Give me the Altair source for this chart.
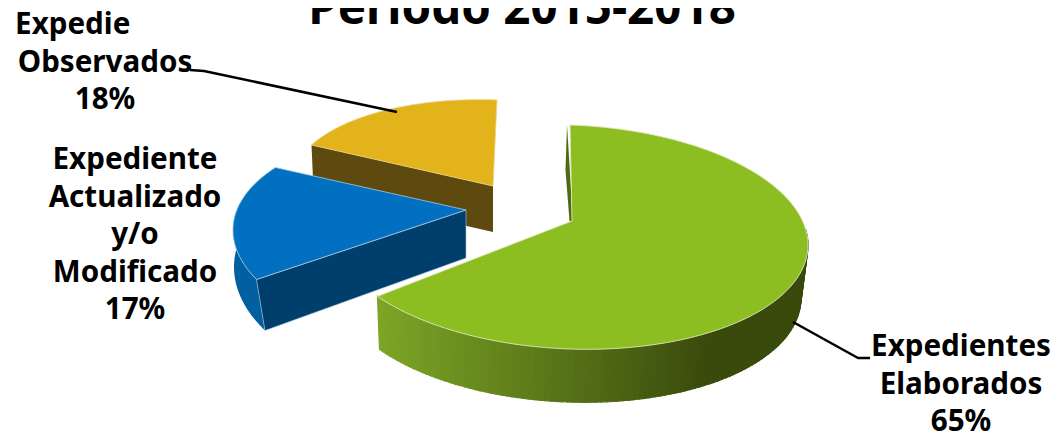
import math
import altair as alt

# --- values ---
TITLE = "Periodo 2015-2018"
names = ["Expedientes\nElaborados", "Expediente\nActualizado\ny/o\nModificado", "Expedientes\nObservados"]
shares = [65, 17, 18]

W, H = 1043, 423
OX, OY = 8, 8

GREEN, GREEN_LIGHT, GREEN_DARK = "#8CBE22", "#7DA526", "#394B0C"
BLUE, BLUE_OUT, BLUE_IN = "#0170C0", "#01609F", "#003E6C"
YELLOW, BROWN = "#E2B31B", "#5E4A0E"


def spans():
    t = 0.0
    out = []
    for v in shares:
        out.append((t, t + v * 3.6))
        t += v * 3.6
    return out


def pt(el, t):
    r = math.radians(t)
    x = el["cx"] + el["rx"] * math.sin(r)
    y = el["cy"] - el["ry"] * math.cos(r) + el["s"] * math.sin(r)
    return [x - OX, y - OY]


def arc(el, a, b, n=90):
    return [pt(el, a + (b - a) * i / n) for i in range(n + 1)]


def at(x, y):
    return [x - OX, y - OY]


def feat(coords, fill, stroke=None, sw=0.0, line=False):
    c = list(coords)
    geom = {"type": "LineString", "coordinates": c} if line else {"type": "Polygon", "coordinates": [c + [c[0]]]}
    return {"type": "Feature", "geometry": geom,
            "properties": {"fill": fill, "stroke": stroke or fill, "sw": sw}}


def mix(c1, c2, f):
    a = [int(c1[i:i + 2], 16) for i in (1, 3, 5)]
    b = [int(c2[i:i + 2], 16) for i in (1, 3, 5)]
    return "#%02x%02x%02x" % tuple(round(p + (q - p) * f) for p, q in zip(a, b))


(g0, g1), (b0, b1), (y0, y1) = spans()
EL_G = dict(cx=570, cy=237, rx=238, ry=112, s=8)
EL_GB = dict(cx=568, cy=290, rx=233, ry=112, s=8)
EL_B = dict(cx=465, cy=238, rx=232, ry=111, s=8)
EL_BB = dict(cx=465, cy=275, rx=231, ry=125, s=8)
EL_Y = dict(cx=497, cy=191, rx=205, ry=91, s=8)
BLUE_TURN = 10  # the exploded blue wedge is seen under a slightly different perspective
APEX_G, APEX_B, APEX_Y = at(572, 221), at(466, 210), at(493, 186)

F = []
# yellow wedge
yl = pt(EL_Y, y0)
F.append(feat([yl, APEX_Y, [APEX_Y[0], APEX_Y[1] + 46], [yl[0] + 2, yl[1] + 46]], BROWN))
F.append(feat(arc(EL_Y, y0, y1) + [APEX_Y], YELLOW, "#EBD27E", 0.8))
# green inner sliver
F.append(feat([at(567, 125), at(565.5, 170), at(569.5, 221), at(573, 221)], "#4D6A12"))
# blue wedge
bs, be = b0 + BLUE_TURN, b1 + BLUE_TURN
BB_START = 240
F.append(feat(arc(EL_B, bs, 285) + arc(EL_BB, 285, BB_START), BLUE_OUT))
lo = pt(EL_B, bs)
F.append(feat([lo, APEX_B, [APEX_B[0], APEX_B[1] + 48], pt(EL_BB, BB_START)], BLUE_IN, "#AFC6DA", 0.6))
F.append(feat(arc(EL_B, bs, be) + [APEX_B], BLUE, "#A9C9E6", 0.8))
# green wall, drawn as narrow shaded strips
STEPS = 110
for i in range(STEPS):
    a = g1 - (g1 - 82) * i / STEPS
    b = g1 - (g1 - 82) * (i + 1) / STEPS
    q = arc(EL_G, a, b, n=1) + arc(EL_GB, b, a, n=1)
    f = min(1.0, max(0.0, (q[0][0] + OX - 378) / 330))
    col = mix(GREEN_LIGHT, GREEN_DARK, f)
    F.append(feat(q, col, col, 1.2))
F.append(feat(arc(EL_G, g0, g1, n=180) + [APEX_G], GREEN, "#DCE8BC", 0.9))

LINES = [
    feat([at(190, 70), at(204, 71), at(397, 112)], "none", "#000000", 2.5, line=True),
    feat([at(793, 322), at(858, 358), at(870, 358)], "none", "#000000", 2.5, line=True),
]

proj = alt.Projection(type="identity", scale=1, translate=[0, 0])
fmt = alt.DataFormat(type="json")

shapes = alt.Chart(alt.Data(values=F, format=fmt)).mark_geoshape().encode(
    fill=alt.Fill("properties.fill:N", scale=None, legend=None),
    stroke=alt.Stroke("properties.stroke:N", scale=None, legend=None),
    strokeWidth=alt.StrokeWidth("properties.sw:Q", scale=None, legend=None),
    order=alt.Order("idx:Q"),
).transform_window(idx="row_number()").project(**proj.to_dict())

leaders = alt.Chart(alt.Data(values=LINES, format=fmt)).mark_geoshape(
    filled=False, stroke="#000000", strokeWidth=2.5, strokeJoin="round"
).project(**proj.to_dict())

FONT = "Noto Sans"


def label(text, cx, base):
    return alt.Chart(alt.Data(values=[{"t": text}])).mark_text(
        font=FONT, fontWeight="bold", fontSize=29.6, align="center", baseline="alphabetic",
        lineBreak="\n", lineHeight=37.5, color="#000000",
    ).encode(x=alt.value(cx - OX), y=alt.value(base - OY), text="t:N")


texts = [
    label(f"{names[0]}\n{shares[0]}%", 961, 356),
    label(f"{names[1]}\n{shares[1]}%", 135, 169),
    label(f"{names[2]}\n{shares[2]}%", 105, 34),
]

cover = alt.Chart(alt.Data(values=[{"a": 1}])).mark_rect(color="#FFFFFF").encode(
    x=alt.value(132 - OX), x2=alt.value(215 - OX), y=alt.value(0), y2=alt.value(45 - OY)
)

title = alt.Chart(alt.Data(values=[{"t": TITLE}])).mark_text(
    font=FONT, fontWeight="bold", fontSize=47.5, align="center", baseline="alphabetic", color="#000000"
).encode(x=alt.value(522 - OX), y=alt.value(24 - OY), text="t:N")

chart = alt.layer(shapes, leaders, *texts, cover, title).properties(
    width=W, height=H, padding=0, autosize=alt.AutoSizeParams(type="none"),
    background="#FFFFFF",
).configure_view(stroke=None)

chart.save("out.html", embed_options={"renderer": "svg", "actions": False})
